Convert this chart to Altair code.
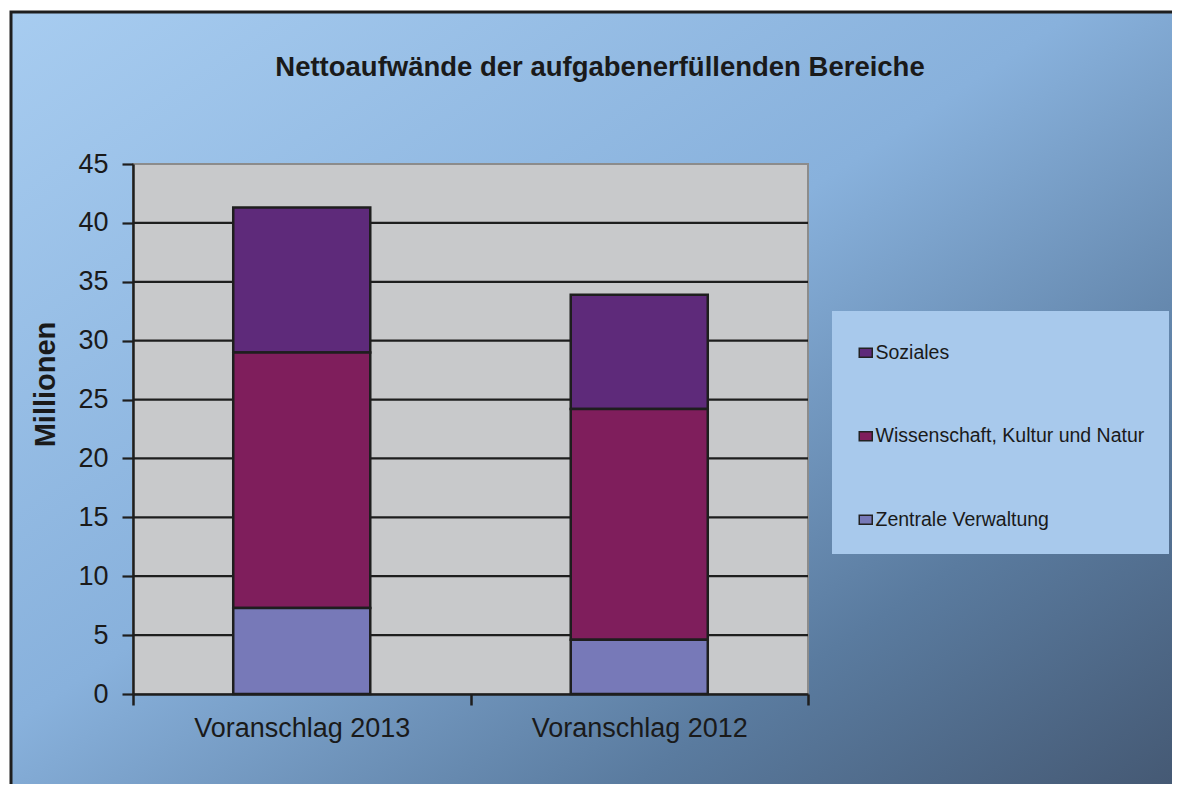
import altair as alt
import pandas as pd

# ---- data ----
categories = ["Voranschlag 2013", "Voranschlag 2012"]
series = ["Soziales", "Wissenschaft, Kultur und Natur", "Zentrale Verwaltung"]
stack_rank = [2, 1, 0]          # Zentrale at the bottom, Soziales on top
soziales = [12.3, 9.7]
wissenschaft = [21.7, 19.6]
zentrale = [7.3, 4.6]
y_ticks = [0, 5, 10, 15, 20, 25, 30, 35, 40, 45]
colors = ["#5E2A7A", "#7F1E5C", "#7779B8"]
title_text = "Nettoaufwände der aufgabenerfüllenden Bereiche"
y_title = "Millionen"

rows = []
for i, cat in enumerate(categories):
    for s, vals, r in zip(series, [soziales, wissenschaft, zentrale], stack_rank):
        rows.append({"Kategorie": cat, "Bereich": s, "Wert": vals[i], "Rang": r})
df = pd.DataFrame(rows)
grid_df = pd.DataFrame({"v": y_ticks[1:-1]})

W, H = 675, 530
INK = "#1e1e1e"
FONT = "Liberation Sans"

gradient = alt.LinearGradient(
    gradient="linear",
    stops=[
        alt.GradientStop(color="#A7CCF0", offset=0),
        alt.GradientStop(color="#88B1DC", offset=0.45),
        alt.GradientStop(color="#5A7B9F", offset=0.75),
        alt.GradientStop(color="#435670", offset=1),
    ],
    x1=0, y1=0, x2=1, y2=1,
)

y_axis = alt.Axis(
    title=y_title, titleFont=FONT, titleFontSize=29, titleFontWeight="bold",
    titleColor="#1a1a1a", titleAngle=270, titleX=-87.5, titleY=220,
    titleAlign="center", titleBaseline="middle",
    values=y_ticks, format="d", labelFont=FONT, labelFontSize=27,
    labelColor="#1a1a1a", labelPadding=14,
    domainColor=INK, domainWidth=2.5, tickColor=INK, tickWidth=2.2,
    tickSize=11, grid=False, zindex=1,
)
y_scale = alt.Scale(domain=[0, 45])

bg = alt.Chart(alt.Data(values=[{}])).mark_rect(
    fill=gradient, stroke=INK, strokeWidth=3, clip=False
).encode(x=alt.value(-122), x2=alt.value(1060), y=alt.value(-152), y2=alt.value(640))

plot_bg = alt.Chart(alt.Data(values=[{}])).mark_rect(
    fill="#C8C9CB", stroke="#8c8c8c", strokeWidth=2
).encode(x=alt.value(0), x2=alt.value("width"), y=alt.value(0), y2=alt.value("height"))

grid = alt.Chart(grid_df).mark_rule(color=INK, strokeWidth=2.2).encode(
    y=alt.Y("v:Q", scale=y_scale, axis=y_axis),
    x=alt.value(0),
    x2=alt.value("width"),
)

bars = alt.Chart(df).mark_bar(
    stroke=INK, strokeWidth=2.5, width=alt.RelativeBandSize(0.406)
).encode(
    x=alt.X(
        "Kategorie:N",
        sort=categories,
        scale=alt.Scale(paddingInner=0, paddingOuter=0),
        axis=alt.Axis(
            title=None, labelFont=FONT, labelFontSize=27, labelColor="#1a1a1a",
            labelPadding=10, labelAngle=0, labelLimit=400,
            domainColor=INK, domainWidth=2.5, tickColor=INK, tickWidth=2.5,
            tickSize=11, tickBand="extent", zindex=1,
        ),
    ),
    y=alt.Y("Wert:Q", stack="zero", scale=y_scale, axis=y_axis),
    color=alt.Color(
        "Bereich:N",
        scale=alt.Scale(domain=series, range=colors),
        legend=alt.Legend(
            title=" ", titleFontSize=2, titlePadding=6,
            orient="none", legendX=699, legendY=147, direction="vertical",
            fillColor="#A8C9EC", padding=24, rowPadding=62.5,
            symbolType="M-1,-0.7H1V0.7H-1Z", symbolSize=169,
            symbolStrokeColor="#222222", symbolStrokeWidth=1.5, symbolOpacity=1,
            labelFont=FONT, labelFontSize=19.5, labelColor="#1a1a1a",
            labelOffset=0, labelLimit=400,
        ),
    ),
    order=alt.Order("Rang:Q", sort="ascending"),
)

chart = alt.layer(bg, plot_bg, grid, bars).properties(
    width=W,
    height=H,
    autosize=alt.AutoSizeParams(type="none"),
    padding={"left": 125, "top": 156, "right": 364, "bottom": 90},
    title=alt.TitleParams(
        title_text, font=FONT, fontSize=27.5, fontWeight="bold",
        color="#1a1a1a", anchor="middle", frame="group", dx=129.5, offset=-99,
        baseline="bottom",
    ),
).configure(background="white").configure_view(stroke="transparent", strokeWidth=0)

chart.save("out.html", embed_options={"renderer": "svg", "actions": False})
